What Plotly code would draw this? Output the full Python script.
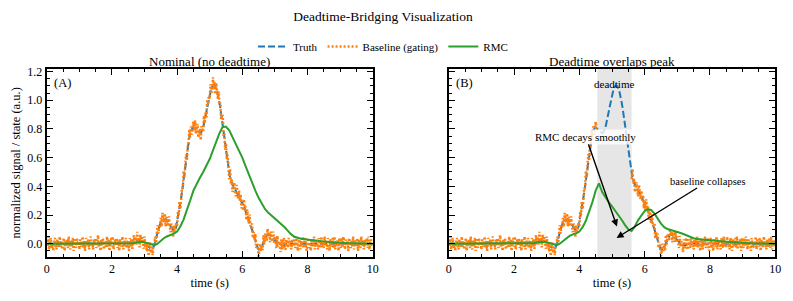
import numpy as np
import plotly.graph_objects as go

# ---------------- data ----------------
# fine grid (0.025 s) for truth / baseline
t_fine = np.linspace(0, 10, 401)
truth = (
    [0.0] * 100 +   # 0.000 - 2.475 s : flat
    [
        0, 0, 0, 0.001, 0.003, 0.004, 0.006, 0.009, 0.012, 0.016,
        0.02, 0.023, 0.025, 0.026, 0.025, 0.023, 0.02, 0.015, 0.01, 0.005,
        0.0, -0.005, -0.01, -0.015, -0.02, -0.025, -0.03, -0.033, -0.035, -0.034,
        -0.03, -0.022, -0.01, 0.008, 0.03, 0.055, 0.08, 0.10, 0.12, 0.136,
        0.15, 0.158, 0.165, 0.168, 0.17, 0.171, 0.17, 0.166, 0.16, 0.151,
        0.14, 0.13, 0.12, 0.11, 0.10, 0.094, 0.09, 0.092, 0.10, 0.12,
        0.15, 0.18, 0.21, 0.245, 0.28, 0.32, 0.36, 0.405, 0.45, 0.495,
        0.54, 0.585, 0.63, 0.672, 0.71, 0.742, 0.77, 0.788, 0.80, 0.807,
        0.81, 0.806, 0.80, 0.795, 0.79, 0.785, 0.78, 0.775, 0.77, 0.772,
        0.78, 0.792, 0.81, 0.833, 0.86, 0.89, 0.92, 0.95, 0.98, 1.01,
        1.04, 1.062, 1.08, 1.093, 1.10, 1.103, 1.10, 1.092, 1.08, 1.062,
        1.04, 1.012, 0.98, 0.946, 0.91, 0.871, 0.83, 0.79, 0.75, 0.705,
        0.66, 0.615, 0.57, 0.527, 0.49, 0.462, 0.44, 0.424, 0.41, 0.40,
        0.39, 0.38, 0.37, 0.36, 0.35, 0.34, 0.33, 0.32, 0.31, 0.296,
        0.28, 0.27, 0.26, 0.245, 0.23, 0.215, 0.20, 0.185, 0.17, 0.155,
        0.14, 0.12, 0.10, 0.08, 0.06, 0.04, 0.02, 0.0, -0.02, -0.032,
        -0.04, -0.042, -0.04, -0.032, -0.02, -0.005, 0.01, 0.025, 0.04, 0.051,
        0.06, 0.064, 0.065, 0.063, 0.06, 0.055, 0.05, 0.043, 0.035, 0.028,
        0.02, 0.015, 0.01, 0.005, 0.0, -0.003, -0.005, -0.008, -0.01, -0.01,
        -0.01, -0.008, -0.005, -0.002, 0, 0, 0, 0, 0, 0,
    ] +
    [0.0] * 101     # 7.500 - 10.000 s : flat
)
# measurement scatter read around the truth (baseline = truth + scatter)
scatter = [
    0.03, -0.02, 0.05, -0.04, 0.01, 0.04, -0.03, 0.00, -0.05, 0.02, 0.04, -0.01, -0.04, 0.03, 0.01, -0.03, 0.05, -0.02, 0.02, -0.04,
    0.01, 0.04, -0.05, 0.02, -0.01, 0.03, -0.03, 0.05, 0.00, -0.04, 0.02, -0.02, 0.04, -0.05, 0.03, 0.01, -0.03, 0.04, -0.01, 0.02,
    -0.04, 0.03, 0.00, -0.02, 0.05, -0.03, 0.02, -0.05, 0.04, 0.01, -0.01, 0.03, -0.04, 0.02, 0.05, -0.02, 0.00, -0.04, 0.03, -0.01,
    0.04, -0.03, 0.02, 0.06, -0.02, 0.01, -0.05, 0.03, -0.01, 0.04, -0.04, 0.02, 0.00, -0.03, 0.05, -0.02, 0.03, -0.05, 0.01, 0.04,
    -0.02, 0.05, -0.04, 0.01, 0.03, -0.01, 0.04, -0.03, 0.02, -0.05, 0.03, 0.00, -0.02, 0.05, -0.04, 0.02, -0.01, 0.04, -0.03, 0.01,
    0.02, -0.05, 0.04, -0.01, 0.03, -0.04, 0.00, 0.05, -0.02, 0.03, -0.03, 0.06, -0.01, 0.02, -0.05, 0.04, -0.02, 0.03, 0.00, -0.04,
    0.05, -0.02, 0.01, -0.04, 0.03, -0.06, 0.02, 0.04, -0.03, 0.00, -0.05, 0.03, -0.01, 0.04, -0.04, 0.02, 0.05, -0.03, 0.01, -0.02,
    0.03, -0.04, 0.05, 0.00, -0.02, 0.04, -0.05, 0.02, 0.01, -0.03, 0.05, -0.01, -0.04, 0.03, 0.02, -0.05, 0.04, -0.02, 0.00, 0.03,
    -0.03, 0.04, -0.01, 0.05, -0.04, 0.02, 0.03, -0.02, 0.06, -0.03, 0.01, 0.04, -0.05, 0.02, -0.01, 0.05, -0.03, 0.03, -0.04, 0.01,
    0.04, -0.02, 0.06, -0.03, 0.02, 0.05, -0.04, 0.01, 0.03, -0.05, 0.04, 0.00, -0.03, 0.06, -0.02, 0.03, -0.04, 0.05, -0.01, 0.02,
    -0.03, 0.05, 0.01, -0.04, 0.06, -0.02, 0.03, -0.05, 0.04, 0.00, -0.03, 0.05, -0.01, 0.04, -0.04, 0.02, 0.06, -0.03, 0.01, -0.05,
    0.04, -0.03, 0.05, 0.01, -0.04, 0.06, -0.02, 0.03, -0.05, 0.02, 0.04, -0.01, -0.04, 0.05, 0.00, -0.03, 0.04, -0.02, 0.03, -0.05,
    0.02, -0.04, 0.05, -0.01, 0.03, -0.05, 0.04, 0.00, -0.03, 0.05, -0.02, 0.01, 0.04, -0.04, 0.02, -0.01, 0.05, -0.03, 0.00, 0.03,
    -0.05, 0.02, 0.04, -0.02, 0.01, -0.04, 0.05, -0.03, 0.03, 0.00, -0.04, 0.04, -0.01, 0.02, -0.05, 0.03, 0.01, -0.03, 0.05, -0.02,
    0.03, -0.01, -0.04, 0.05, -0.02, 0.02, 0.00, -0.05, 0.04, -0.03, 0.01, 0.05, -0.02, -0.04, 0.03, 0.01, -0.03, 0.04, -0.01, 0.02,
    -0.04, 0.03, 0.01, -0.02, 0.05, -0.03, 0.02, 0.04, -0.05, 0.00, 0.03, -0.04, 0.02, -0.01, 0.05, -0.03, 0.01, 0.04, -0.02, -0.05,
    0.02, 0.04, -0.03, 0.01, -0.05, 0.03, 0.00, -0.02, 0.05, -0.04, 0.02, 0.03, -0.01, -0.04, 0.04, 0.01, -0.03, 0.05, -0.02, 0.00,
    -0.03, 0.05, -0.01, 0.02, -0.04, 0.04, 0.01, -0.05, 0.03, -0.02, 0.00, 0.04, -0.03, 0.05, -0.04, 0.02, -0.01, 0.03, -0.05, 0.04,
    0.01, -0.03, 0.04, -0.02, 0.05, 0.00, -0.04, 0.03, -0.01, 0.02, -0.05, 0.04, 0.01, -0.03, 0.02, -0.02, 0.05, -0.04, 0.03, 0.00,
    -0.02, 0.04, -0.05, 0.03, 0.01, -0.03, 0.05, -0.01, 0.02, -0.04, 0.03, 0.00, -0.02, 0.04, -0.03, 0.05, -0.04, 0.01, 0.03, -0.02,
    0.01,
]

# coarse grid (0.1 s) for the RMC state estimates
t_coarse = np.linspace(0, 10, 101)
rmc_nominal = [
    0, 0, 0, 0, 0, 0, 0, 0, 0, 0,
    0, 0, 0, 0, 0, 0, 0, 0, 0, 0,
    0, 0, 0, 0, 0, 0, 0.003, 0.007, 0.011, 0.013,
    0.01, 0.003, -0.006, -0.01, 0.0, 0.02, 0.04, 0.052, 0.06, 0.07,
    0.085, 0.12, 0.17, 0.23, 0.30, 0.37, 0.42, 0.46, 0.50, 0.54,
    0.59, 0.65, 0.71, 0.77, 0.815, 0.815, 0.79, 0.745, 0.70, 0.655,
    0.60, 0.54, 0.48, 0.42, 0.37, 0.32, 0.275, 0.24, 0.215, 0.195,
    0.18, 0.16, 0.14, 0.115, 0.09, 0.065, 0.048, 0.04, 0.035, 0.031,
    0.028, 0.025, 0.022, 0.02, 0.017, 0.015, 0.013, 0.011, 0.009, 0.007,
    0.006, 0.005, 0.004, 0.003, 0.003, 0.002, 0.002, 0.001, 0.001, 0.0,
    0.0,
]
rmc_deadtime = [
    0, 0, 0, 0, 0, 0, 0, 0, 0, 0,
    0, 0, 0, 0, 0, 0, 0, 0, 0, 0,
    0, 0, 0, 0, 0, 0, 0.004, 0.01, 0.014, 0.014,
    0.01, 0.003, -0.006, -0.01, 0.0, 0.02, 0.04, 0.054, 0.065, 0.072,
    0.085, 0.115, 0.16, 0.22, 0.29, 0.37, 0.42, 0.36, 0.32, 0.29,
    0.26, 0.23, 0.20, 0.165, 0.13, 0.10, 0.088, 0.12, 0.165, 0.20,
    0.228, 0.24, 0.235, 0.21, 0.175, 0.14, 0.115, 0.102, 0.095, 0.09,
    0.083, 0.075, 0.066, 0.056, 0.046, 0.038, 0.033, 0.03, 0.028, 0.026,
    0.024, 0.022, 0.02, 0.018, 0.016, 0.014, 0.012, 0.01, 0.008, 0.007,
    0.006, 0.005, 0.004, 0.003, 0.003, 0.002, 0.002, 0.001, 0.001, 0.0,
    0.0,
]
deadtime = (4.55, 5.6)
panel_titles = ["Nominal (no deadtime)", "Deadtime overlaps peak"]
x_ticks = [0, 2, 4, 6, 8, 10]

baseline_nominal = [a + b for a, b in zip(truth, scatter)]
baseline_gated = [None if deadtime[0] - 1e-9 <= t < deadtime[1] - 1e-9 else v
                  for t, v in zip(t_fine, baseline_nominal)]

# ---------------- figure ----------------
FONT = "'Liberation Serif', 'Times New Roman', Times, serif"
BLUE, ORANGE, GREEN = "#1f77b4", "#ff7f0e", "#2ca02c"

fig = go.Figure()
for k, (bl, rmc) in enumerate([(baseline_nominal, rmc_nominal),
                               (baseline_gated, rmc_deadtime)]):
    xa, ya = ("x", "y") if k == 0 else ("x2", "y2")
    fig.add_trace(go.Scatter(x=t_fine, y=truth, mode="lines", name="Truth",
                             line=dict(color=BLUE, width=2, dash="7px,3px"),
                             xaxis=xa, yaxis=ya, showlegend=(k == 0)))
    fig.add_trace(go.Scatter(x=t_fine, y=bl, mode="lines", name="Baseline (gating)",
                             line=dict(color=ORANGE, width=2.5, dash="2px,2px"),
                             xaxis=xa, yaxis=ya, showlegend=(k == 0)))
    fig.add_trace(go.Scatter(x=t_coarse, y=rmc, mode="lines", name="RMC",
                             line=dict(color=GREEN, width=2),
                             xaxis=xa, yaxis=ya, showlegend=(k == 0)))

W, H = 793, 301
ydom = [1 - 256.7 / H, 1 - 69 / H]
xdomA = [46.7 / W, 372.7 / W]
xdomB = [448.7 / W, 775.3 / W]

axis_common = dict(
    showline=True, linecolor="#000000", linewidth=2, mirror="allticks",
    ticks="inside", ticklen=6, tickwidth=1, tickcolor="#000000",
    showgrid=False, zeroline=False,
    tickfont=dict(family=FONT, size=12, color="black"),
)
xminor = dict(ticks="inside", ticklen=3, tickwidth=1, tickcolor="#000000", dtick=0.5)
yminor = dict(ticks="inside", ticklen=3, tickwidth=1, tickcolor="#000000", dtick=0.05)

fig.update_layout(
    template="none",
    width=W, height=H,
    margin=dict(l=0, r=0, t=0, b=0),
    paper_bgcolor="white", plot_bgcolor="white",
    font=dict(family=FONT, color="black"),
    title=dict(text="Deadtime-Bridging Visualization", x=383 / W, xanchor="center",
               y=1 - 16.5 / H, yanchor="middle", font=dict(size=13.5, family=FONT)),
    legend=dict(orientation="h", x=383 / W, xanchor="center", y=1 - 46.5 / H,
                yanchor="middle", font=dict(size=11, family=FONT),
                bgcolor="rgba(0,0,0,0)", itemwidth=30),
    xaxis=dict(domain=xdomA, anchor="y", range=[0, 10], tickvals=x_ticks,
               minor=xminor, title=dict(text="time (s)", standoff=3,
                                        font=dict(size=12.5, family=FONT)),
               **axis_common),
    yaxis=dict(domain=ydom, anchor="x", range=[-0.0905, 1.2175], dtick=0.2, tick0=0,
               tickformat=".1f", minor=yminor,
               title=dict(text="normalized signal / state (a.u.)", standoff=4,
                          font=dict(size=12.5, family=FONT)),
               **axis_common),
    xaxis2=dict(domain=xdomB, anchor="y2", range=[0, 10], tickvals=x_ticks,
                minor=xminor, title=dict(text="time (s)", standoff=3,
                                         font=dict(size=12.5, family=FONT)),
                **axis_common),
    yaxis2=dict(domain=ydom, anchor="x2", range=[-0.0905, 1.2175], dtick=0.2, tick0=0,
                showticklabels=False, minor=yminor, **axis_common),
)

# deadtime shading
fig.add_shape(type="rect", xref="x2", yref="y2 domain", x0=deadtime[0], x1=deadtime[1],
              y0=0, y1=1, fillcolor="rgba(128,128,128,0.2)", line_width=0, layer="below")

ann = []
# subplot titles
for dom, txt in zip([xdomA, xdomB], panel_titles):
    ann.append(dict(text=txt, xref="paper", yref="paper", x=(dom[0] + dom[1]) / 2,
                    y=1 - 61.5 / H, xanchor="center", yanchor="middle", showarrow=False,
                    font=dict(size=13, family=FONT)))
# panel letters
for xr, yr, txt in [("x domain", "y domain", "(A)"), ("x2 domain", "y2 domain", "(B)")]:
    ann.append(dict(text=txt, xref=xr, yref=yr, x=0.015, y=0.975, xanchor="left",
                    yanchor="top", showarrow=False, font=dict(size=12.5, family=FONT)))
# deadtime label
ann.append(dict(text="deadtime", xref="x2", yref="y2", x=(deadtime[0] + deadtime[1]) / 2,
                y=1.11, showarrow=False, font=dict(size=11, family=FONT)))
# arrows
ann.append(dict(text="RMC decays smoothly", xref="x2", yref="y2", x=5.15, y=0.12,
                axref="x2", ayref="y2", ax=4.2, ay=0.745, showarrow=True,
                arrowhead=2, arrowsize=1, arrowwidth=1.4, arrowcolor="black",
                bgcolor="rgba(255,255,255,0.8)", font=dict(size=11, family=FONT)))
ann.append(dict(text="baseline collapses", xref="x2", yref="y2", x=5.14, y=0.04,
                axref="x2", ayref="y2", ax=7.95, ay=0.437, showarrow=True,
                arrowhead=2, arrowsize=1, arrowwidth=1.4, arrowcolor="black",
                font=dict(size=10.5, family=FONT)))
fig.update_layout(annotations=ann)

fig.write_html("out.html", config={"displayModeBar": False},
               post_script="document.body.style.margin='0px';")
